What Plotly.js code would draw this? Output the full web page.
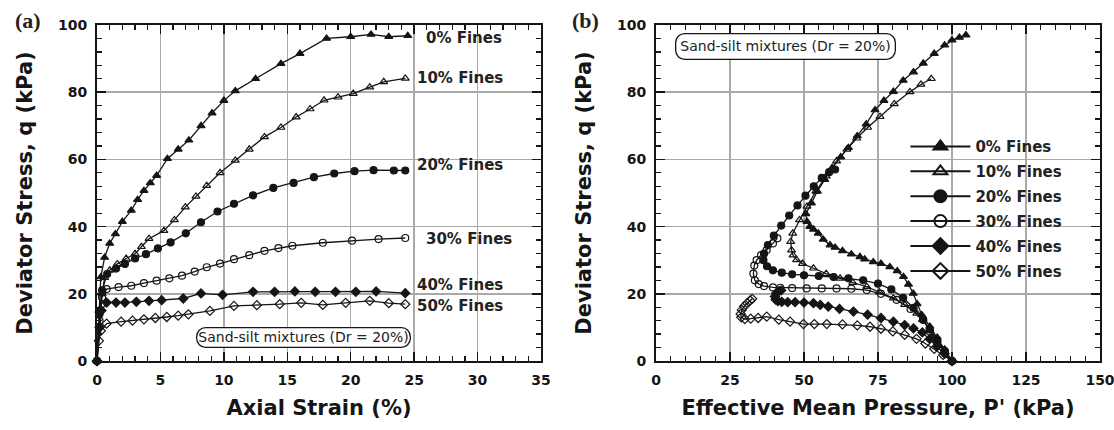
<!DOCTYPE html>
<html>
<head>
<meta charset="utf-8">
<script src="https://cdn.plot.ly/plotly-3.0.1.min.js"></script>
<style>
  html, body { margin: 0; padding: 0; background: #fff; }
  #chart { width: 1114px; height: 430px; }
</style>
</head>
<body>
<div id="chart"></div>
<script>
// Undrained triaxial tests on sand-silt mixtures, Dr = 20 %
const fineLabels = ['0% Fines', '10% Fines', '20% Fines', '30% Fines', '40% Fines', '50% Fines'];
const markerSymbols = ['triangle-up', 'triangle-up-open', 'circle', 'circle-open', 'diamond', 'diamond-open'];

// (a) deviator stress q (kPa) against axial strain (%)
const strainF0 = [0, 0.15, 0.3, 0.6, 1.0, 1.45, 2.0, 2.7, 3.2, 3.7, 4.2, 4.7, 5.55, 6.4, 7.24, 8.2, 9.07, 10.0, 10.9, 12.5, 14.5, 16.0, 18.1, 20.0, 21.6, 23.0, 24.5];
const qStrainF0 = [0, 15, 25, 30.8, 35, 37.8, 41.5, 44.8, 48, 50.7, 53, 55.2, 60.2, 63, 65.7, 70, 73.8, 77.5, 80.4, 84, 88.5, 91.5, 96, 96.5, 97.2, 96.5, 96.8];

const strainF10 = [0, 0.2, 0.4, 0.6, 1.0, 1.6, 2.3, 3.0, 3.5, 4.1, 5.27, 6.1, 6.96, 7.8, 8.65, 9.7, 10.9, 12.0, 13.2, 14.5, 15.7, 16.8, 17.9, 19.0, 20.2, 21.5, 22.6, 24.3];
const qStrainF10 = [0, 15, 20, 24.8, 27, 28.9, 30.5, 31.9, 34, 36.4, 38.8, 42, 45.8, 49, 52.2, 56, 59.7, 63, 66.7, 69.5, 72.6, 75, 77.6, 78.5, 79.6, 81.5, 83.1, 84.1];

const strainF20 = [0, 0.2, 0.4, 0.8, 1.5, 2.2, 3.0, 3.86, 4.8, 5.8, 7.0, 8.2, 9.5, 10.8, 12.3, 13.9, 15.5, 17.1, 18.7, 20.3, 21.8, 23.4, 24.3];
const qStrainF20 = [0, 14, 21, 25.9, 27.5, 28.9, 30.5, 31.8, 33.5, 35.3, 38, 41.3, 44.5, 46.8, 49.3, 51.5, 53, 54.7, 55.8, 56.5, 56.8, 56.7, 56.7];

const strainF30 = [0, 0.2, 0.4, 0.76, 1.7, 2.7, 3.7, 4.7, 5.7, 6.7, 7.7, 8.65, 9.7, 10.8, 12.0, 13.2, 14.3, 15.4, 17.8, 20.1, 22.2, 24.3];
const qStrainF30 = [0, 12, 19, 21.4, 22, 22.4, 23.2, 23.9, 24.6, 25.4, 26.6, 27.9, 29, 30.3, 31.5, 32.8, 33.6, 34.3, 35.2, 35.8, 36.3, 36.6];

const strainF40 = [0, 0.2, 0.35, 0.76, 1.5, 2.2, 3.1, 4.1, 5.1, 6.8, 8.2, 9.9, 12.3, 14.0, 15.6, 17.2, 18.8, 20.4, 22.0, 24.3];
const qStrainF40 = [0, 10, 15, 17.4, 17.4, 17.4, 17.6, 17.9, 18.1, 18.6, 20.1, 19.7, 20.6, 20.6, 20.7, 20.6, 20.6, 20.6, 20.7, 20.2];

const strainF50 = [0, 0.15, 0.3, 0.76, 1.9, 2.8, 3.7, 4.6, 5.5, 6.4, 7.2, 8.9, 10.8, 12.6, 14.4, 16.1, 17.8, 19.6, 21.5, 23.0, 24.3];
const qStrainF50 = [0, 6, 9, 11.1, 11.7, 12, 12.4, 12.8, 13.1, 13.5, 13.9, 14.9, 16.4, 16.6, 16.9, 17.3, 16.7, 17.3, 17.9, 17.2, 16.9];

// (b) effective stress paths: q (kPa) against p' (kPa)
const pF0 = [100, 97.5, 95, 92.5, 89.8, 88.2, 86.9, 85.3, 83.6, 81.5, 79, 76, 73.4, 70.5, 68.9, 66, 63, 60.5, 58.8, 56.5, 54.8, 53.2, 52, 51, 50.6, 52.5, 54.5, 57, 59.5, 62.4, 65, 68, 71, 74, 77, 80.2, 83.5, 87, 90.3, 94, 97.5, 100, 102.5, 104.7];
const qPathF0 = [0, 3.5, 7, 10.3, 13.7, 17, 20.1, 22.8, 25.1, 26.8, 28, 29, 29.5, 30.3, 31, 31.8, 32.8, 33.8, 34.5, 36.2, 38, 39.2, 40, 41.5, 43.8, 47, 50.5, 54, 57.5, 60.7, 63.5, 67, 70.5, 74.7, 77.5, 80.2, 83.5, 86, 88.6, 91.5, 94, 95.5, 96.3, 97];

const pF10 = [100, 97.5, 95, 92.5, 90, 88.1, 84, 80.2, 75.5, 71.2, 66.5, 62.2, 57.5, 53.2, 49.5, 47.5, 46.3, 45.8, 45.5, 46.2, 48.5, 51, 54, 57.5, 61, 64.5, 67.8, 71.5, 75.7, 80.5, 85.8, 89.5, 93];
const qPathF10 = [0, 3, 6.2, 9.3, 12.3, 14.2, 16.8, 18.7, 20.5, 22.1, 23.3, 24.6, 26, 27.6, 29, 30.1, 31.5, 33, 35.5, 38, 42, 46, 50.5, 55, 59.5, 63, 66.3, 69.5, 72.7, 76.5, 80.1, 82.3, 84];

const pF20 = [100, 97.5, 95, 92.5, 90.2, 87, 83.5, 79.5, 75, 70, 65, 60, 55, 50, 46, 42.5, 39.5, 37.5, 36.3, 36.5, 37.8, 39.8, 42.3, 45, 47.8, 50.5, 53.3, 56, 58.5, 60.5];
const qPathF20 = [0, 3, 6.2, 9.4, 12.4, 15.8, 18.8, 21.3, 23, 24, 24.6, 25, 25.3, 25.5, 25.8, 26.3, 27, 28.2, 30, 32, 34.5, 37.3, 40.3, 43.3, 46.3, 49.2, 52, 54.5, 56.2, 57];

const pF30 = [100, 97.5, 95, 92.5, 90.3, 86, 81.3, 76, 71.2, 66, 61, 56, 50.9, 46, 42, 39.5, 36.5, 34.7, 33.4, 32.9, 33.2, 34, 35.5, 37.4, 39.5, 41];
const qPathF30 = [0, 2.8, 5.7, 8.8, 12.2, 15.5, 18.2, 20, 21.1, 21.5, 21.6, 21.6, 21.6, 21.7, 21.8, 21.9, 22.3, 22.9, 24, 26, 28.4, 30, 31.5, 33, 35, 36.5];

const pF40 = [100, 97.5, 95, 92.5, 90, 87, 84, 80.2, 76, 71.5, 66.7, 62, 58.2, 55.5, 53.2, 50, 47, 44.5, 42.5, 41.2, 40.4, 40.2, 40.6, 41.5, 42.3];
const qPathF40 = [0, 2.2, 4.4, 6.6, 8.5, 9.7, 10.7, 11.7, 12.8, 13.8, 14.7, 15.5, 16.2, 16.7, 17.2, 17.4, 17.5, 17.5, 17.6, 17.8, 18.3, 19.2, 20.2, 20.8, 21];

const pF50 = [100, 97, 94, 91, 88, 84, 80, 76, 72.3, 68, 63, 57.7, 53.5, 49.8, 45.3, 41.5, 37.4, 34.5, 32, 30, 28.8, 28.6, 29, 29.8, 30.8, 31.8, 32.5];
const qPathF50 = [0, 1.8, 3.6, 5.2, 6.6, 7.8, 8.8, 9.6, 10.2, 10.6, 10.9, 11, 11, 11, 11.7, 12.3, 13.2, 12.8, 12.6, 12.5, 13, 14, 15.2, 16.3, 17.2, 18, 18.5];

// curve labels in panel (a)
const labelStrain = [28.9, 28.6, 28.6, 29.3, 28.6, 28.6];
const labelQ = [96, 84.1, 58.2, 36.3, 22.7, 16.4];

const strainSeries = [[strainF0, qStrainF0], [strainF10, qStrainF10], [strainF20, qStrainF20],
                      [strainF30, qStrainF30], [strainF40, qStrainF40], [strainF50, qStrainF50]];
const pathSeries = [[pF0, qPathF0], [pF10, qPathF10], [pF20, qPathF20],
                    [pF30, qPathF30], [pF40, qPathF40], [pF50, qPathF50]];

const INK = '#151515';
const FONT = 'DejaVu Sans';

function curve(xy, i, xa, ya, inLegend) {
  return {
    type: 'scatter', mode: 'lines+markers',
    x: xy[0], y: xy[1], xaxis: xa, yaxis: ya,
    name: fineLabels[i], legendgroup: 'g' + i, showlegend: inLegend,
    cliponaxis: false, hoverinfo: 'skip',
    line: { color: INK, width: 1.3 },
    marker: { symbol: markerSymbols[i], size: 7, color: INK, line: { color: INK, width: 1.2 } }
  };
}

const traces = [];
strainSeries.forEach((xy, i) => traces.push(curve(xy, i, 'x', 'y', false)));
pathSeries.forEach((xy, i) => traces.push(curve(xy, i, 'x2', 'y2', true)));

function axis(range, dtick, minorDtick, titleText, extra) {
  return Object.assign({
    range: range, dtick: dtick, tick0: 0, autorange: false, fixedrange: true,
    ticks: 'inside', ticklen: 9, tickwidth: 1.5, tickcolor: INK,
    showline: true, linecolor: INK, linewidth: 2, mirror: 'ticks',
    showgrid: true, gridcolor: '#a9a9a9', gridwidth: 1.5, zeroline: false,
    minor: { dtick: minorDtick, tick0: 0, ticks: 'inside', ticklen: 5, tickwidth: 1.3, tickcolor: INK, showgrid: false },
    tickfont: { family: FONT, size: 14, weight: 'bold', color: INK },
    ticklabelstandoff: 5, ticklabeloverflow: 'allow',
    title: { text: titleText, font: { family: FONT, size: 21, weight: 'bold', color: INK } }
  }, extra);
}

const xDomA = [0, 444 / 1003];
const xDomB = [559 / 1003, 1];

const annotations = [];
labelStrain.forEach((s, i) => annotations.push({
  xref: 'x', yref: 'y', x: s, y: labelQ[i], text: fineLabels[i], showarrow: false,
  xanchor: 'center', yanchor: 'middle',
  font: { family: FONT, size: 15, weight: 'bold', color: '#222' }
}));
const boxFont = { family: FONT, size: 14, color: '#222' };
annotations.push({
  xref: 'x', yref: 'y', x: 16.24, y: 7.1, text: 'Sand-silt mixtures (Dr = 20%)', showarrow: false,
  xanchor: 'center', yanchor: 'middle', font: boxFont,
  bordercolor: INK, borderwidth: 1.3, borderpad: 1, bgcolor: '#fff'
});
annotations.push({
  xref: 'x2', yref: 'y2', x: 43.9, y: 93.5, text: 'Sand-silt mixtures (Dr = 20%)', showarrow: false,
  xanchor: 'center', yanchor: 'middle', font: boxFont,
  bordercolor: INK, borderwidth: 1.3, borderpad: 4, bgcolor: '#fff'
});
annotations.push({
  xref: 'paper', yref: 'paper', x: (28 - 97) / 1003, y: 1 + 5 / 336, text: '(a)', showarrow: false,
  xanchor: 'center', yanchor: 'middle',
  font: { family: 'Liberation Serif', size: 22, weight: 'bold', color: '#222' }
});
annotations.push({
  xref: 'paper', yref: 'paper', x: (585 - 97) / 1003, y: 1 + 5 / 336, text: '(b)', showarrow: false,
  xanchor: 'center', yanchor: 'middle',
  font: { family: 'Liberation Serif', size: 22, weight: 'bold', color: '#222' }
});

const layout = {
  width: 1114, height: 430,
  margin: { l: 97, r: 14, t: 25, b: 69 },
  paper_bgcolor: '#fff', plot_bgcolor: '#fff',
  font: { family: FONT, size: 14, color: INK },
  hovermode: false,
  showlegend: true,
  legend: {
    x: 0.806, y: 0.687, xanchor: 'left', yanchor: 'top',
    bgcolor: 'rgba(0,0,0,0)', borderwidth: 0,
    font: { family: FONT, size: 15, weight: 'bold', color: '#222' },
    itemsizing: 'constant', itemwidth: 60, tracegroupgap: 2.4, itemclick: false, itemdoubleclick: false
  },
  xaxis: axis([0, 35], 5, 1, 'Axial Strain (%)', { domain: xDomA, anchor: 'y' }),
  yaxis: axis([0, 100], 20, 4, 'Deviator Stress, q (kPa)', { anchor: 'x' }),
  xaxis2: axis([0, 150], 25, 5, "Effective Mean Pressure, P' (kPa)", { domain: xDomB, anchor: 'y2' }),
  yaxis2: axis([0, 100], 20, 4, 'Deviator Stress, q (kPa)', { anchor: 'x2' }),
  annotations: annotations
};
layout.xaxis.title.standoff = 14;
layout.xaxis2.title.standoff = 14;
layout.yaxis.title.standoff = 20;
layout.yaxis2.title.standoff = 20;

Plotly.newPlot('chart', traces, layout, { staticPlot: true, displayModeBar: false }).then(gd => {
  // rounded frames for the two boxed notes
  gd.querySelectorAll('.annotation rect.bg').forEach(r => {
    if (r.getAttribute('style') && /stroke-width: ?1\.3/.test(r.getAttribute('style'))) {
      r.setAttribute('rx', 9);
      r.setAttribute('ry', 9);
    }
  });
  // thinner key lines in the legend
  gd.querySelectorAll('.legend .legendlines path').forEach(p => {
    p.style.strokeWidth = '2px';
  });
});
</script>
</body>
</html>
